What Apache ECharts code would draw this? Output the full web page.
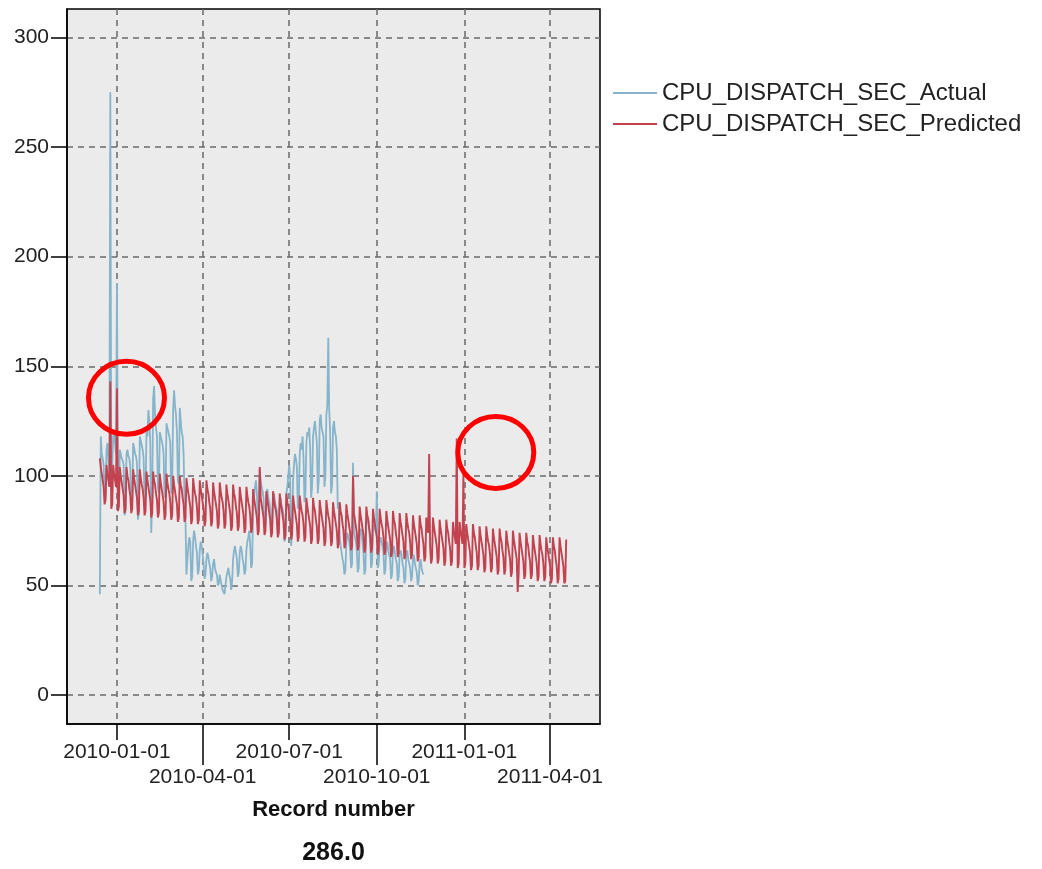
<!DOCTYPE html>
<html>
<head>
<meta charset="utf-8">
<script src="https://cdn.jsdelivr.net/npm/echarts@6/dist/echarts.min.js"></script>
<style>
html,body{margin:0;padding:0;background:#fff;}
#chart{width:1042px;height:869px;}
</style>
</head>
<body>
<div id="chart"></div>
<script>
// ---- data ----
var startDate = '2009-12-14';            // first daily record (Monday)
var seriesNames = ['CPU_DISPATCH_SEC_Actual', 'CPU_DISPATCH_SEC_Predicted'];
var tickDates = ['2010-01-01', '2010-04-01', '2010-07-01', '2010-10-01', '2011-01-01', '2011-04-01'];
var upperLabelDates = ['2010-01-01', '2010-07-01', '2011-01-01'];
var lowerLabelDates = ['2010-04-01', '2010-10-01', '2011-04-01'];
var yTicks = [0, 50, 100, 150, 200, 250, 300];
var xTitle = 'Record number';
var footerText = '286.0';

// daily actual values, one row per week (Mon..Sun)
var actual = [
  46,118,110,108,105,92,90,
  112,115,108,100,275,95,104,
  118,120,115,110,188,90,88,
  112,110,108,107,105,82,84,
  110,112,109,108,104,85,88,
  115,113,110,109,106,80,83,
  118,116,114,112,108,88,90,
  120,118,130,125,115,74,90,
  135,141,128,122,118,95,92,
  120,118,116,114,110,90,92,
  124,122,120,118,115,92,95,
  130,139,132,128,120,98,96,
  131,125,120,118,110,88,80,
  55,62,68,72,70,52,54,
  70,75,72,68,65,55,57,
  66,70,68,64,60,53,55,
  62,65,63,60,58,52,54,
  60,62,58,56,55,50,51,
  55,52,50,48,47,46,50,
  54,56,58,55,53,48,52,
  62,66,68,65,62,54,56,
  65,68,66,62,60,55,57,
  66,70,72,75,68,58,60,
  85,90,95,98,92,78,80,
  103,98,95,93,90,76,78,
  92,94,90,88,85,74,76,
  90,92,88,86,84,72,75,
  88,90,86,85,82,70,72,
  92,95,100,105,98,68,75,
  98,105,110,108,104,85,88,
  110,115,112,118,108,88,92,
  115,120,118,122,112,90,95,
  118,122,125,120,115,92,98,
  125,128,122,120,118,95,100,
  128,132,163,130,120,92,96,
  122,125,120,118,112,85,88,
  72,68,65,62,60,55,57,
  70,74,72,70,66,58,60,
  106,75,72,70,66,56,58,
  72,76,74,70,65,55,57,
  78,82,80,75,70,58,60,
  75,78,76,74,93,58,60,
  70,72,70,68,65,55,57,
  68,70,66,64,62,53,55,
  66,68,65,62,60,52,54,
  65,66,64,60,58,51,53,
  64,66,62,60,58,52,54,
  62,64,60,58,56,50,52,
  60,62,58,56,55
];

// daily predicted values, one row per week (Mon..Sun)
var predicted = [
  108,104,101,98,95,87,89,
  105,101,98,95,143,85,87,
  105,101,98,95,140,84,86,
  104,100,97,94,91,83,85,
  104,100,98,94,91,83,85,
  103,99,96,93,90,82,84,
  103,99,96,94,90,82,84,
  102,98,95,92,89,81,83,
  102,98,96,92,89,81,83,
  101,97,94,91,88,80,82,
  101,97,94,92,88,80,82,
  100,96,93,90,87,79,81,
  100,96,94,90,87,79,81,
  99,95,92,89,86,78,80,
  99,95,92,90,86,78,80,
  98,94,91,88,85,77,79,
  98,94,92,88,85,77,79,
  97,93,90,87,84,76,78,
  97,93,90,88,84,76,78,
  96,92,89,86,83,75,77,
  96,92,90,86,83,75,77,
  95,91,88,85,82,74,76,
  95,91,88,86,82,74,76,
  94,90,87,84,81,73,75,
  104,90,87,84,81,73,75,
  93,89,86,83,80,72,74,
  93,89,86,84,80,72,74,
  92,88,85,82,79,71,73,
  92,88,86,82,79,71,73,
  91,87,84,81,78,70,72,
  91,87,84,82,78,70,72,
  90,86,83,80,77,69,71,
  90,86,84,80,77,69,71,
  89,85,82,79,76,68,70,
  89,85,82,80,76,68,70,
  88,84,81,78,75,67,69,
  88,84,82,78,75,67,69,
  87,83,80,77,74,66,68,
  100,83,80,77,74,66,68,
  86,82,79,76,73,65,67,
  86,82,80,76,73,65,67,
  85,81,78,75,72,64,66,
  85,81,78,76,72,64,66,
  84,80,77,74,71,63,65,
  84,80,78,74,71,63,65,
  83,79,76,73,70,62,64,
  83,79,76,74,70,62,64,
  82,78,75,72,69,61,63,
  82,78,76,72,69,61,63,
  81,77,74,110,68,60,62,
  81,77,74,71,68,60,62,
  80,76,73,70,67,59,61,
  80,76,74,70,67,59,61,
  79,75,72,69,117,58,60,
  79,75,72,69,101,58,60,
  78,74,71,68,65,57,59,
  78,74,72,68,65,57,59,
  77,73,70,67,64,56,58,
  77,73,70,68,64,56,58,
  76,72,69,66,63,55,57,
  76,72,70,66,63,55,57,
  75,71,68,65,62,54,56,
  75,71,68,65,62,47,55,
  74,70,67,64,61,53,55,
  74,70,68,64,61,53,55,
  73,69,66,63,60,52,54,
  73,69,66,64,60,52,54,
  72,68,65,62,59,51,53,
  72,68,66,62,59,51,53,
  72,68,65,62,59,51,52,
  71
];

// annotation circles: [date, value] of centre
var annotations = [['2010-01-11', 135.6], ['2011-02-03', 110.7]];

// ---- build ----
var DAY = 86400000;
function ts(s) { var p = s.split('-'); return Date.UTC(+p[0], +p[1] - 1, +p[2]); }
var t0 = ts(startDate);
function toPairs(arr) { return arr.map(function (v, i) { return [t0 + i * DAY, v]; }); }

var tickVals = tickDates.map(ts);
var upperVals = upperLabelDates.map(ts);
var lowerVals = lowerLabelDates.map(ts);
var xMin = ts('2010-01-01') - 52.5 * DAY;
var xMax = ts('2011-04-01') + 52.5 * DAY;
function dateLabel(v) {
  for (var i = 0; i < tickVals.length; i++) {
    if (Math.abs(tickVals[i] - v) < DAY / 2) return tickDates[i];
  }
  return '';
}

var FONT = 'Liberation Sans, Arial, sans-serif';
var chart = echarts.init(document.getElementById('chart'), null, { renderer: 'canvas' });

var option = {
  animation: false,
  backgroundColor: '#ffffff',
  grid: {
    left: 67, right: 442, top: 9, bottom: 145,
    show: true, backgroundColor: '#ebebeb', borderColor: '#000', borderWidth: 1.5
  },
  legend: {
    orient: 'vertical', left: 613, top: 81, padding: 0,
    itemGap: 7, itemWidth: 44, itemHeight: 2, icon: 'rect',
    textStyle: { fontFamily: FONT, fontSize: 24, color: '#222', lineHeight: 24 },
    data: seriesNames
  },
  xAxis: [{
    type: 'value', min: xMin, max: xMax,
    axisLine: { show: true, onZero: false, lineStyle: { color: '#000', width: 1.5 } },
    axisTick: { show: true, length: 16, customValues: tickVals, lineStyle: { color: '#000', width: 1.5 } },
    axisLabel: {
      customValues: upperVals, margin: 18, fontFamily: FONT, fontSize: 21, color: '#222',
      showMinLabel: true, showMaxLabel: true, formatter: dateLabel
    },
    splitLine: { show: true, lineStyle: { color: '#6a6a6a', width: 1.5, type: [6, 5] } },
    name: xTitle, nameLocation: 'middle', nameGap: 75,
    nameTextStyle: { fontFamily: FONT, fontSize: 22, fontWeight: 'bold', color: '#111' }
  }, {
    type: 'value', min: xMin, max: xMax, position: 'bottom', gridIndex: 0,
    axisLine: { show: false, onZero: false },
    axisTick: { show: true, length: 41, customValues: lowerVals, lineStyle: { color: '#000', width: 1.5 } },
    axisLabel: {
      customValues: lowerVals, margin: 43, fontFamily: FONT, fontSize: 21, color: '#222',
      showMinLabel: true, showMaxLabel: true, formatter: dateLabel
    },
    splitLine: { show: false }
  }],
  yAxis: {
    type: 'value', min: -13.2, max: 313,
    axisLine: { show: true, onZero: false, lineStyle: { color: '#000', width: 1.5 } },
    axisTick: { show: true, length: 16, customValues: yTicks, lineStyle: { color: '#000', width: 1.5 } },
    axisLabel: { customValues: yTicks, margin: 18, fontFamily: FONT, fontSize: 21, color: '#222', showMinLabel: true, showMaxLabel: true },
    splitLine: { show: true, lineStyle: { color: '#6a6a6a', width: 1.5, type: [6, 5] } }
  },
  series: [{
    name: seriesNames[0], type: 'line', xAxisIndex: 0, showSymbol: false, symbol: 'none',
    color: '#86b4cb', lineStyle: { color: '#86b4cb', width: 1.8 },
    data: toPairs(actual), z: 2
  }, {
    name: seriesNames[1], type: 'line', xAxisIndex: 0, showSymbol: false, symbol: 'none',
    color: '#c2434f', lineStyle: { color: '#c2434f', width: 1.9 },
    data: toPairs(predicted), z: 3
  }]
};
chart.setOption(option);

var ellipseSizes = [[38, 36.5], [38, 36]];
var graphics = annotations.map(function (a, i) {
  var p = chart.convertToPixel({ xAxisIndex: 0, yAxisIndex: 0 }, [ts(a[0]), a[1]]);
  return {
    type: 'ellipse', z: 100, silent: true,
    shape: { cx: p[0], cy: p[1], rx: ellipseSizes[i][0], ry: ellipseSizes[i][1] },
    style: { fill: 'none', stroke: '#ff0000', lineWidth: 5 }
  };
});
var midX = (chart.convertToPixel({ xAxisIndex: 0 }, xMin) + chart.convertToPixel({ xAxisIndex: 0 }, xMax)) / 2;
graphics.push({
  type: 'text', z: 100, x: midX, y: 853,
  style: { text: footerText, font: 'bold 25px ' + FONT, fill: '#111', align: 'center', verticalAlign: 'middle' }
});
chart.setOption({ graphic: graphics });
</script>
</body>
</html>
